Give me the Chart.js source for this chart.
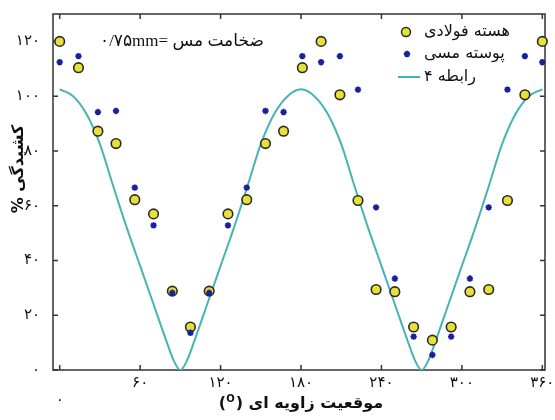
<!DOCTYPE html>
<html>
<head>
  <meta http-equiv="Content-type" content="text/html; charset=utf-8">
  <title>کشیدگی - موقعیت زاویه ای</title>
  <style>
    body { margin: 0; background: #fff; }
  </style>
</head>
<body>
  <canvas id="canvas" width="555" height="420"></canvas>

  <script src="https://cdn.jsdelivr.net/npm/chart.js"></script>

  <script>
    // angular position of the measured points (degrees)
    const angles = [0, 14, 28.5, 42, 56, 70, 84, 97.5, 111.5, 125.5, 139.5, 153.5, 167, 181,
                    195, 209, 222.5, 236, 250, 264, 278, 292, 306, 320, 334, 347, 360];
    // steel core (yellow circles)
    const steelCore = [120, 110.4, 87.2, 82.7, 62.2, 57, 28.8, 15.7, 28.8, 57, 62.2, 82.7, 87.2, 110.4,
                       120, 100.5, 61.9, 29.4, 28.6, 15.7, 10.9, 15.7, 28.6, 29.4, 61.9, 100.5, 120];
    // copper shell (blue stars)
    const copperShell = [112.4, 114.6, 94.2, 94.6, 66.6, 52.8, 28.2, 13.6, 28.2, 52.8, 66.6, 94.6, 94.2, 114.6,
                         112.4, 114.6, 102.4, 59.4, 33.4, 12.2, 5.5, 12.2, 33.4, 59.4, 102.4, 114.6, 112.4];
    // relation 4 curve
    const curveAngles = [0, 10, 20, 30, 40, 50, 60, 70, 80, 85, 90, 95, 100, 110, 120, 130, 140, 150, 160, 170, 180,
                         190, 200, 210, 220, 230, 240, 250, 260, 265, 270, 275, 280, 290, 300, 310, 320, 330, 340, 350, 360];
    const curveValues = [102.5, 100, 93.5, 82.5, 67, 52, 38, 24, 10, 3.5, 0, 3.5, 10, 24, 38, 52, 67, 82.5, 93.5, 100, 102.5,
                         100, 93.5, 82.5, 67, 52, 38, 24, 10, 3.5, 0, 3.5, 10, 24, 38, 52, 67, 82.5, 93.5, 100, 102.5];

    const xTickValues = [0, 60, 120, 180, 240, 300, 360];
    const yTickValues = [0, 20, 40, 60, 80, 100, 120];

    const legendLabels = ['هسته فولادی', 'پوسته مسی', 'رابطه ۴'];
    const noteText = '۰/۷۵mm= ضخامت مس';
    const xTitle = 'موقعیت زاویه ای';
    const yTitle = '% کشیدگی';

    const YELLOW = '#e6df3c', YELLOW_EDGE = '#2b2b1f';
    const BLUE = '#1a1f9e';
    const TEAL = '#46b3b5';
    const AXIS = '#333';

    // cifre persiane
    const fa = n => String(n).replace(/\d/g, d => '۰۱۲۳۴۵۶۷۸۹'[d]);
    const pts = (xs, ys) => xs.map((x, i) => ({ x: x, y: ys[i] }));

    // box, inward ticks, titles, legend and note
    const decor = {
      id: 'decor',
      beforeDatasetsDraw(chart) {
        const { ctx, chartArea: a, scales: { x, y } } = chart;
        ctx.save();
        ctx.strokeStyle = AXIS;
        ctx.lineWidth = 1.5;
        ctx.strokeRect(a.left, a.top, a.right - a.left, a.bottom - a.top);
        ctx.beginPath();
        xTickValues.forEach(v => {
          const px = x.getPixelForValue(v);
          ctx.moveTo(px, a.bottom); ctx.lineTo(px, a.bottom - 5);
          ctx.moveTo(px, a.top); ctx.lineTo(px, a.top + 5);
        });
        yTickValues.forEach(v => {
          const py = y.getPixelForValue(v);
          ctx.moveTo(a.left, py); ctx.lineTo(a.left + 5, py);
          ctx.moveTo(a.right, py); ctx.lineTo(a.right - 5, py);
        });
        ctx.stroke();
        ctx.restore();
      },
      afterDraw(chart) {
        const { ctx } = chart;
        ctx.save();
        ctx.fillStyle = '#111';
        ctx.textBaseline = 'middle';

        // x title with (O) superscript on the left
        ctx.font = 'bold 16px "DejaVu Sans"';
        const wMain = ctx.measureText(' ' + xTitle).width;
        const wPar = ctx.measureText('()').width;
        ctx.font = 'bold 10px "DejaVu Sans"';
        const wO = ctx.measureText('O').width + 1;
        let cx = 301 - (wMain + wPar + wO) / 2;
        ctx.textAlign = 'left';
        ctx.font = 'bold 16px "DejaVu Sans"';
        ctx.fillText('(', cx, 404);
        cx += ctx.measureText('(').width;
        ctx.font = 'bold 10px "DejaVu Sans"';
        ctx.fillText('O', cx, 399);
        cx += wO;
        ctx.font = 'bold 16px "DejaVu Sans"';
        ctx.fillText(')', cx, 404);
        cx += ctx.measureText(')').width;
        ctx.fillText(' ' + xTitle, cx, 404);

        // y title
        ctx.textAlign = 'center';
        ctx.save();
        ctx.translate(19, 169);
        ctx.rotate(-Math.PI / 2);
        ctx.fillText(yTitle, 0, 0);
        ctx.restore();

        // note
        ctx.font = '17px "Liberation Serif", "DejaVu Sans"';
        ctx.textAlign = 'left';
        ctx.fillText(noteText, 100, 42);

        // legend
        const rows = [32, 54, 77];
        ctx.font = '16px "DejaVu Sans"';
        legendLabels.forEach((t, i) => ctx.fillText(t, 424, rows[i]));

        ctx.beginPath();
        ctx.arc(406, rows[0], 4.5, 0, Math.PI * 2);
        ctx.fillStyle = YELLOW;
        ctx.fill();
        ctx.lineWidth = 1.5;
        ctx.strokeStyle = YELLOW_EDGE;
        ctx.stroke();

        ctx.strokeStyle = BLUE;
        ctx.lineWidth = 1.8;
        ctx.beginPath();
        for (let k = 0; k < 4; k++) {
          const ang = k * Math.PI / 4;
          ctx.moveTo(407 - 3.2 * Math.cos(ang), rows[1] - 3.2 * Math.sin(ang));
          ctx.lineTo(407 + 3.2 * Math.cos(ang), rows[1] + 3.2 * Math.sin(ang));
        }
        ctx.stroke();

        ctx.strokeStyle = TEAL;
        ctx.lineWidth = 2;
        ctx.beginPath();
        ctx.moveTo(398, rows[2]);
        ctx.lineTo(420, rows[2]);
        ctx.stroke();
        ctx.restore();
      }
    };

    const ctx = document.getElementById('canvas').getContext('2d');

    const chart = new Chart(ctx, {
      type: 'scatter',
      data: {
        datasets: [
          {
            label: legendLabels[1],
            data: pts(angles, copperShell),
            pointStyle: 'star',
            pointRadius: 3.2,
            borderColor: BLUE,
            backgroundColor: BLUE,
            borderWidth: 1.8,
            clip: false
          },
          {
            label: legendLabels[0],
            data: pts(angles, steelCore),
            pointStyle: 'circle',
            pointRadius: 4.8,
            backgroundColor: YELLOW,
            borderColor: YELLOW_EDGE,
            borderWidth: 1.6,
            clip: false
          },
          {
            label: legendLabels[2],
            data: pts(curveAngles, curveValues),
            showLine: true,
            pointRadius: 0,
            borderColor: TEAL,
            borderWidth: 2,
            cubicInterpolationMode: 'monotone',
            fill: false
          }
        ]
      },
      options: {
        responsive: false,
        animation: false,
        devicePixelRatio: 1,
        events: [],
        layout: { padding: { top: 13, right: 10, left: 0, bottom: 0 } },
        plugins: {
          legend: { display: false },
          tooltip: { enabled: false }
        },
        scales: {
          x: {
            type: 'linear',
            min: -5,
            max: 362,
            afterBuildTicks: s => { s.ticks = xTickValues.map(v => ({ value: v })); },
            afterFit: s => { s.height = 50; },
            grid: { display: false },
            border: { display: false },
            ticks: {
              padding: -3,
              color: '#111',
              font: { family: 'DejaVu Sans', size: 15, lineHeight: 1.1 },
              callback: v => v === 0 ? ['', fa(0)] : fa(v)
            }
          },
          y: {
            min: 0,
            max: 130,
            afterBuildTicks: s => { s.ticks = yTickValues.map(v => ({ value: v })); },
            afterFit: s => { s.width = 53; },
            grid: { display: false },
            border: { display: false },
            ticks: {
              padding: 5,
              color: '#111',
              font: { family: 'DejaVu Sans', size: 15 },
              callback: v => fa(v)
            }
          }
        }
      },
      plugins: [decor]
    });
  </script>
</body>
</html>
